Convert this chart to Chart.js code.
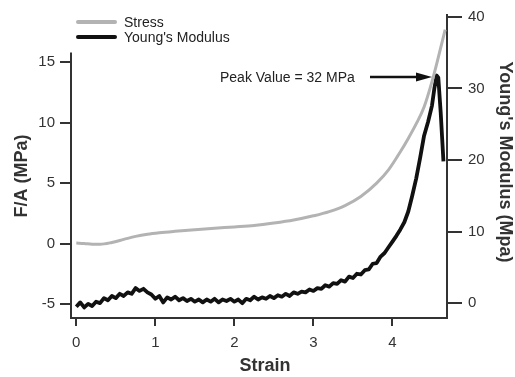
<!DOCTYPE html>
<html>
<head>
<meta charset="utf-8">
<style>
  html, body { margin: 0; padding: 0; background: #fff; }
  #chart { display: block; }
</style>
<script src="https://cdn.jsdelivr.net/npm/chart.js@4/dist/chart.umd.min.js"></script>
</head>
<body>
<canvas id="chart" width="515" height="377"></canvas>
<script>
// stress curve (left axis, MPa)
const stressStrain = [0, 0.1, 0.2, 0.3, 0.45, 0.6, 0.75, 0.9, 1.05, 1.25, 1.5, 1.75, 2.0, 2.25, 2.5, 2.75, 3.0, 3.2, 3.4, 3.6, 3.8, 3.95, 4.1, 4.2, 4.3, 4.4, 4.5, 4.58, 4.667];
const stressValues = [0.05, 0.02, -0.05, -0.05, 0.1, 0.35, 0.6, 0.78, 0.9, 1.02, 1.15, 1.27, 1.38, 1.5, 1.7, 1.95, 2.3, 2.65, 3.15, 3.9, 5.0, 6.1, 7.6, 8.7, 9.9, 11.3, 13.4, 15.4, 17.7];

// young's modulus (right axis, MPa)
const modStrain = [0, 0.05, 0.1, 0.15, 0.2, 0.25, 0.3, 0.35, 0.4, 0.45, 0.5, 0.55, 0.6, 0.65, 0.7, 0.75, 0.8, 0.85, 0.9, 0.95,
  1.0, 1.05, 1.1, 1.15, 1.2, 1.25, 1.3, 1.35, 1.4, 1.45, 1.5, 1.55, 1.6, 1.65, 1.7, 1.75, 1.8, 1.85, 1.9, 1.95,
  2.0, 2.05, 2.1, 2.15, 2.2, 2.25, 2.3, 2.35, 2.4, 2.45, 2.5, 2.55, 2.6, 2.65, 2.7, 2.75, 2.8, 2.85, 2.9, 2.95,
  3.0, 3.05, 3.1, 3.15, 3.2, 3.25, 3.3, 3.35, 3.4, 3.45, 3.5, 3.55, 3.6, 3.65, 3.7, 3.75, 3.8, 3.85, 3.9, 3.95,
  4.0, 4.05, 4.1, 4.15, 4.2, 4.25, 4.3, 4.35, 4.4, 4.45, 4.5, 4.53, 4.56, 4.58, 4.61, 4.645];
const modValues = [-0.5, 0.1, -0.6, -0.1, -0.4, 0.2, 0.0, 0.7, 0.4, 1.0, 0.7, 1.3, 1.0, 1.5, 1.3, 2.1, 1.7, 2.0, 1.5, 1.2,
  0.6, 1.0, 0.1, 0.8, 0.5, 0.9, 0.4, 0.7, 0.3, 0.6, 0.2, 0.5, 0.1, 0.5, 0.2, 0.6, 0.1, 0.5, 0.3, 0.6,
  0.2, 0.5, 0.0, 0.6, 0.4, 0.9, 0.5, 0.8, 0.6, 1.0, 0.7, 1.1, 0.9, 1.3, 1.0, 1.5, 1.3, 1.6, 1.5, 1.9,
  1.7, 2.1, 2.0, 2.5, 2.3, 2.8, 2.7, 3.2, 3.0, 3.7, 3.5, 4.1, 4.0, 4.6, 4.7, 5.5, 5.6, 6.5, 7.0, 7.8,
  8.6, 9.4, 10.3, 11.3, 12.8, 15.0, 17.4, 20.3, 23.4, 25.3, 27.6, 30.0, 31.8, 31.5, 26.7, 19.8];

const xTicks = [0, 1, 2, 3, 4];
const leftTicks = [-5, 0, 5, 10, 15];
const rightTicks = [0, 10, 20, 30, 40];
const seriesNames = ['Stress', "Young's Modulus"];
const peakText = 'Peak Value = 32 MPa';

const FONT = '"Liberation Sans", Arial, sans-serif';
const INK = '#333';

function pairs(xs, ys) {
  return xs.map((x, i) => ({ x: x, y: ys[i] }));
}

const extras = {
  id: 'extras',
  afterDraw(chart) {
    const ctx = chart.ctx;
    const area = chart.chartArea;
    const sx = chart.scales.x, sy = chart.scales.y, sy1 = chart.scales.y1;
    ctx.save();

    // left axis line stops a bit above the top tick
    ctx.strokeStyle = INK;
    ctx.lineWidth = 2;
    ctx.beginPath();
    ctx.moveTo(area.left, sy.getPixelForValue(15.8));
    ctx.lineTo(area.left, area.bottom + 1);
    ctx.stroke();

    // legend
    const ds = chart.data.datasets;
    const rows = [22, 37];
    ds.forEach((d, i) => {
      ctx.strokeStyle = d.borderColor;
      ctx.lineWidth = 4;
      ctx.lineCap = 'round';
      ctx.beginPath();
      ctx.moveTo(78, rows[i]);
      ctx.lineTo(115, rows[i]);
      ctx.stroke();
      ctx.fillStyle = '#222';
      ctx.font = '14px ' + FONT;
      ctx.textBaseline = 'middle';
      ctx.textAlign = 'left';
      ctx.fillText(d.label, 124, rows[i] + 1);
    });

    // peak annotation
    const tipX = sx.getPixelForValue(4.5);
    const tipY = sy1.getPixelForValue(31.6);
    ctx.fillStyle = '#222';
    ctx.font = '14px ' + FONT;
    ctx.textAlign = 'left';
    ctx.textBaseline = 'middle';
    ctx.fillText(peakText, 220, tipY + 1);
    ctx.strokeStyle = '#111';
    ctx.lineWidth = 2.5;
    ctx.lineCap = 'butt';
    ctx.beginPath();
    ctx.moveTo(370, tipY);
    ctx.lineTo(tipX - 10, tipY);
    ctx.stroke();
    ctx.fillStyle = '#111';
    ctx.beginPath();
    ctx.moveTo(tipX, tipY);
    ctx.lineTo(tipX - 16, tipY - 4.5);
    ctx.lineTo(tipX - 16, tipY + 4.5);
    ctx.closePath();
    ctx.fill();

    // axis titles
    ctx.fillStyle = INK;
    ctx.font = 'bold 18px ' + FONT;
    ctx.textAlign = 'center';
    ctx.textBaseline = 'middle';
    ctx.fillText('Strain', 265, 366);

    ctx.save();
    ctx.translate(22.5, 176);
    ctx.rotate(-Math.PI / 2);
    ctx.fillText('F/A (MPa)', 0, 0);
    ctx.restore();

    ctx.save();
    ctx.translate(505, 162);
    ctx.rotate(Math.PI / 2);
    ctx.fillText("Young's Modulus (Mpa)", 0, 0);
    ctx.restore();

    ctx.restore();
  }
};

function fixedTicks(list) {
  return scale => { scale.ticks = list.map(v => ({ value: v })); };
}

const tickFont = { family: FONT, size: 15 };

new Chart(document.getElementById('chart'), {
  type: 'line',
  data: {
    datasets: [{
      label: seriesNames[0],
      data: pairs(stressStrain, stressValues),
      yAxisID: 'y',
      borderColor: '#b3b3b3',
      borderWidth: 3,
      pointRadius: 0,
      cubicInterpolationMode: 'monotone'
    }, {
      label: seriesNames[1],
      data: pairs(modStrain, modValues),
      yAxisID: 'y1',
      borderColor: '#111',
      borderWidth: 3.8,
      borderJoinStyle: 'round',
      pointRadius: 0,
      tension: 0
    }]
  },
  options: {
    responsive: false,
    animation: false,
    devicePixelRatio: 1,
    layout: { padding: { top: 12, left: 0, right: 0, bottom: 0 } },
    plugins: { legend: { display: false }, tooltip: { enabled: false } },
    scales: {
      x: {
        type: 'linear',
        min: -0.067,
        max: 4.69,
        afterBuildTicks: fixedTicks(xTicks),
        afterFit: s => { s.height = 59; },
        ticks: { font: tickFont, color: INK, padding: 8 },
        grid: { drawOnChartArea: false, tickLength: 8, color: INK, lineWidth: 2 },
        border: { color: INK, width: 2 }
      },
      y: {
        position: 'left',
        min: -6.15,
        max: 18.91,
        afterBuildTicks: fixedTicks(leftTicks),
        afterFit: s => { s.width = 71; },
        ticks: { font: tickFont, color: INK, padding: 5 },
        grid: { drawOnChartArea: false, tickLength: 11, color: INK, lineWidth: 2 },
        border: { display: false }
      },
      y1: {
        position: 'right',
        min: -2.08,
        max: 40.26,
        afterBuildTicks: fixedTicks(rightTicks),
        afterFit: s => { s.width = 68; },
        ticks: { font: tickFont, color: INK, padding: 6 },
        grid: { drawOnChartArea: false, tickLength: 15, color: INK, lineWidth: 2 },
        border: { color: INK, width: 2 }
      }
    }
  },
  plugins: [extras]
});
</script>
</body>
</html>
